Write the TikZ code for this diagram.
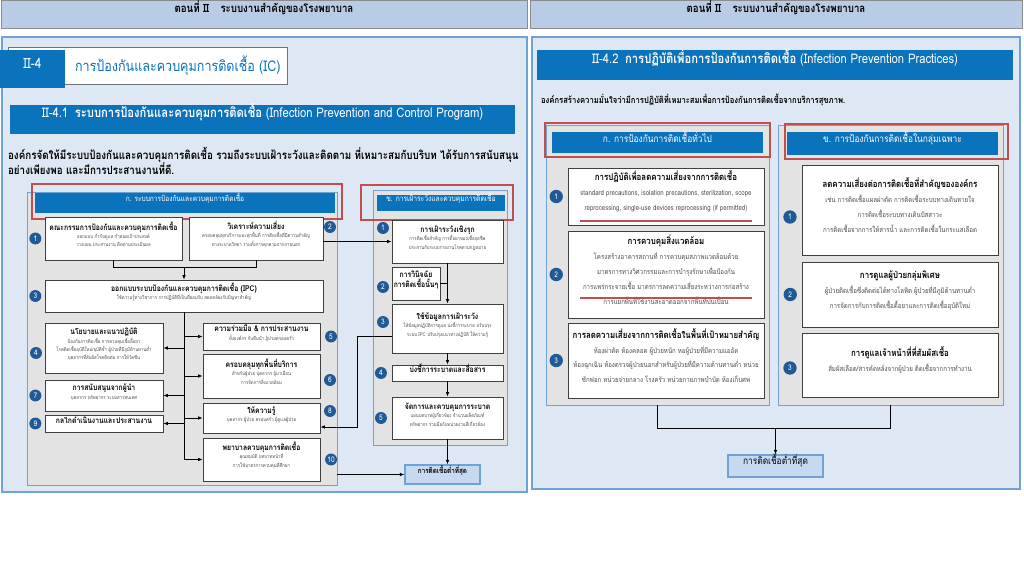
\documentclass[tikz,border=0pt]{standalone}
\usepackage{fontspec}
\setmainfont{Loma}[Script=Thai, FakeStretch=0.85]
\usetikzlibrary{positioning, arrows.meta, fit, shadows}
\definecolor{bandblue}{HTML}{B9CCE5}
\definecolor{paneblue}{HTML}{DEE8F4}
\definecolor{edgeblue}{HTML}{6FA3D6}
\definecolor{barblue}{HTML}{0B73BB}
\definecolor{areagray}{HTML}{E3E3E3}
\definecolor{numblue}{HTML}{1F5A96}
\definecolor{framered}{HTML}{C0504D}
\definecolor{outblue}{HTML}{C6D9F0}
\definecolor{subgray}{HTML}{4D4D4D}
\newcommand\hdrfont{\fontsize{8.1}{9}\selectfont\bfseries}
\newcommand\barfont{\fontsize{9.4}{11}\selectfont}
\newcommand\boxttl{\fontsize{5.7}{6.5}\selectfont\bfseries\color{black}}
\newcommand\boxsml{\fontsize{3.6}{6}\selectfont}
\newcommand\bigttl{\fontsize{6.6}{8}\selectfont\bfseries\color{black}}
\newcommand\bigsml{\fontsize{5.1}{10.5}\selectfont}
\tikzset{
  band/.style={fill=bandblue, draw=black!45, line width=0.6pt, inner sep=0pt, font=\hdrfont},
  pane/.style={fill=paneblue, draw=edgeblue, line width=0.8pt, inner sep=0pt},
  bar/.style={fill=barblue, text=white, inner sep=0pt},
  area/.style={fill=areagray, draw=edgeblue, line width=0.6pt, inner sep=0pt},
  box/.style={draw=black!75, fill=white, line width=0.6pt, inner sep=0pt, align=center,
    text=subgray, font=\boxsml,
    drop shadow={shadow xshift=0.5pt, shadow yshift=-0.5pt, fill=black!35}},
  bigbox/.style={box, font=\bigsml},
  redframe/.style={draw=framered, line width=1.5pt},
  num/.style={circle, fill=numblue, text=white, inner sep=0pt, minimum size=8.5pt,
    font=\fontsize{5.5}{6}\selectfont},
  result/.style={fill=outblue, draw=edgeblue, line width=0.8pt, inner sep=0pt,
    font=\fontsize{5.3}{6}\selectfont\bfseries},
  uline/.style={draw=framered, line width=0.8pt},
  >={Latex[length=3.2pt, width=2.6pt]},
}
\begin{document}
\begin{tikzpicture}[x=0.025cm, y=-0.025cm, node distance=2pt, line width=0.6pt]
  \useasboundingbox (0,0) rectangle (1024,576);
  \fill[white] (0,0) rectangle (1024,576);

  % left page
  \node[band, fit={(1,0)(527,28)}] (hdrL) {ตอนที่ II\quad ระบบงานสำคัญของโรงพยาบาล};
  \node[pane, fit={(2,37)(527,492)}] (paneL) {};
  \node[draw=black!55, fill=white, inner sep=0pt, fit={(8,47)(287,84)}] (titlebox) {};
  \node[bar, fit={(0,50)(65,88)}, font=\fontsize{10}{12}\selectfont] (tab) {II-4};
  \node[anchor=west, text=barblue, font=\fontsize{10.5}{12}\selectfont] (title) at (70,66) {การป้องกันและควบคุมการติดเชื้อ (IC)};
  \node[bar, fit={(10,105)(515,134)}, font=\barfont] (barL) {II-4.1\enspace {\bfseries ระบบการป้องกันและควบคุมการติดเชื้อ} (Infection Prevention and Control Program)};
  \node[anchor=west, align=left, font=\fontsize{8.2}{11}\selectfont\bfseries] (introL) at (3,161)
    {องค์กรจัดให้มีระบบป้องกันและควบคุมการติดเชื้อ รวมถึงระบบเฝ้าระวังและติดตาม ที่เหมาะสมกับบริบท ได้รับการสนับสนุน\\
     อย่างเพียงพอ และมีการประสานงานที่ดี.};

  \node[area, fit={(27,192)(337,485)}] (areaL) {};
  \node[bar, fit={(35,193)(335,213)}, font=\fontsize{5.5}{6}\selectfont] (barA) {ก. ระบบการป้องกันและควบคุมการติดเชื้อ};
  \node[redframe, inner sep=0pt, fit={(32,184)(342,219)}] {};

  \node[box, fit={(45,217)(182,260)}] (comm) {{\boxttl คณะกรรมการป้องกันและควบคุมการติดเชื้อ}\\ ออกแบบ กำกับดูแล กำหนดเป้าประสงค์\\ วางแผน ประสานงาน ติดตามประเมินผล};
  \node[box, fit={(189,217)(323,260)}] (risk) {{\boxttl วิเคราะห์ความเสี่ยง}\\ ครอบคลุมทุกบริการและทุกพื้นที่ การติดเชื้อที่มีความสำคัญ\\ ทางระบาดวิทยา รวมทั้งการคุกคามจากภายนอก};
  \node[box, fit={(45,280)(323,312)}] (design) {{\boxttl ออกแบบระบบป้องกันและควบคุมการติดเชื้อ (IPC)}\\ ใช้ความรู้ทางวิชาการ การปฏิบัติที่เป็นที่ยอมรับ สอดคล้องกับปัญหาสำคัญ};
  \node[box, fit={(45,323)(163,373)}] (policy) {{\boxttl นโยบายและแนวปฏิบัติ}\\ ป้องกันการติดเชื้อ การควบคุมเชื้อดื้อยา\\ โรคติดเชื้ออุบัติใหม่/อุบัติซ้ำ ผู้ป่วยที่มีภูมิต้านทานต่ำ\\ บุคลากรที่สัมผัสโรคติดต่อ การให้วัคซีน};
  \node[box, fit={(203,323)(320,350)}] (collab) {{\boxttl ความร่วมมือ \& การประสานงาน}\\ ทั้งองค์กร กับทีมนำ ผู้ป่วยครอบครัว};
  \node[box, fit={(203,354)(320,398)}] (cover) {{\boxttl ครอบคลุมทุกพื้นที่บริการ}\\ สำหรับผู้ป่วย บุคลากร ผู้มาเยือน\\ การจัดการสิ่งแวดล้อม};
  \node[box, fit={(45,380)(163,411)}] (support) {{\boxttl การสนับสนุนจากผู้นำ}\\ บุคลากร ทรัพยากร ระบบสารสนเทศ};
  \node[box, fit={(203,403)(320,433)}] (educ) {{\boxttl ให้ความรู้}\\ บุคลากร ผู้ป่วย ครอบครัว ผู้ดูแลผู้ป่วย};
  \node[box, fit={(45,415)(163,432)}] (mech) {{\boxttl กลไกดำเนินงานและประสานงาน}};
  \node[box, fit={(203,438)(320,481)}] (icn) {{\boxttl พยาบาลควบคุมการติดเชื้อ}\\ คุณสมบัติ บทบาทหน้าที่\\ การใช้มาตรการควบคุมที่ศึกษา};

  \node[num, left=of comm] (n1) {1};
  \node[num] (n2) at (330,227) {2};
  \node[num, left=of design] (n3) {3};
  \node[num] (n4) at (36,353) {4};
  \node[num, right=3pt of collab] (n5) {5};
  \node[num] (n6) at (330,380) {6};
  \node[num, left=of support] (n7) {7};
  \node[num] (n8) at (330,411) {8};
  \node[num, left=of mech] (n9) {9};
  \node[num, right=3pt of icn] (n10) {10};

  \node[area, fit={(373,190)(507,445)}] (areaS) {};
  \node[bar, fit={(377,195)(505,211)}, font=\fontsize{5.6}{6}\selectfont] (barS) {ข. การเฝ้าระวังและควบคุมการติดเชื้อ};
  \node[redframe, inner sep=0pt, fit={(361,185)(513,220)}] {};

  \node[box, fit={(392,220)(503,263)}] (surv) {{\boxttl การเฝ้าระวังเชิงรุก}\\ การติดเชื้อสำคัญ การดื้อยาของเชื้อจุลชีพ\\ ประสานกับระบบรายงานโรคตามกฎหมาย};
  \node[box, fit={(392,267)(440,300)}] (diag) {{\boxttl การวินิจฉัย}\\ {\boxttl การติดเชื้อนั้นๆ}};
  \node[box, fit={(392,304)(503,353)}] (usedata) {{\boxttl ใช้ข้อมูลการเฝ้าระวัง}\\ ให้ข้อมูลปฏิบัติการดูแล บ่งชี้การระบาด ปรับปรุง\\ ระบบ IPC ปรับปรุงแนวทางปฏิบัติ ให้ความรู้};
  \node[box, fit={(392,365)(503,381)}] (outbreak) {{\boxttl บ่งชี้การระบาดและสื่อสาร}};
  \node[box, fit={(392,397)(503,439)}] (manage) {{\boxttl จัดการและควบคุมการระบาด}\\ แผนบทบาทผู้เกี่ยวข้อง จำนวนผลิตภัณฑ์\\ ทรัพยากร ร่วมมือกับหน่วยงานที่เกี่ยวข้อง};
  \node[result, fit={(405,465)(480,484)}] (lowL) {การติดเชื้อต่ำที่สุด};

  \node[num] (c1) at (383,228) {1};
  \node[num] (c2) at (383,287) {2};
  \node[num] (c3) at (383,322) {3};
  \node[num, left=3pt of outbreak] (c4) {4};
  \node[num, left=3pt of manage] (c5) {5};

  \coordinate (brk) at (0,267);
  \coordinate (j3) at (357,336);
  \coordinate (j8) at (357,427);
  \draw (comm.south) -- (comm.south |- brk) -- (risk.south |- brk) -- (risk.south);
  \draw[->] (design.north |- brk) -- (design.north);
  \draw (design.south) -- (design.south |- icn.west);
  \foreach \b in {policy, support, mech}
    \draw[->] (\b.east -| design.south) -- (\b.east);
  \foreach \b in {collab, cover, educ, icn}
    \draw[->] (\b.west -| design.south) -- (\b.west);
  \draw[->] (risk.east |- surv.west) -- (surv.west);
  \draw[->] (usedata.west |- j3) -- (j3) -- (j8) -- (j8 -| educ.east);
  \draw[->] (surv.south) -- (usedata.north);
  \draw (diag.east) -- (diag.east -| surv.south);
  \draw[->] (usedata.south) -- (outbreak.north);
  \draw[->] (outbreak.south) -- (manage.north);
  \draw[->] (manage.south) -- (manage.south |- lowL.north);
  \draw[->] (lowL.west -| areaL.east) -- (lowL.west);

  % right page
  \node[band, fit={(530,0)(1022,28)}] (hdrR) {ตอนที่ II\quad ระบบงานสำคัญของโรงพยาบาล};
  \node[pane, fit={(532,37)(1020,489)}] (paneR) {};
  \node[bar, fit={(537,50)(1013,80)}, font=\barfont] (barR) {II-4.2\enspace {\bfseries การปฏิบัติเพื่อการป้องกันการติดเชื้อ} (Infection Prevention Practices)};
  \node[anchor=west, font=\fontsize{6.4}{7}\selectfont\bfseries] (introR) at (536,100)
    {องค์กรสร้างความมั่นใจว่ามีการปฏิบัติที่เหมาะสมเพื่อการป้องกันการติดเชื้อจากบริการสุขภาพ.};

  \node[area, fit={(546,125)(769,405)}] (areaG) {};
  \node[bar, fit={(552,132)(763,153)}, font=\fontsize{7}{8}\selectfont] (barG) {ก. การป้องกันการติดเชื้อทั่วไป};
  \node[redframe, inner sep=0pt, fit={(545,123)(770,157)}] {};
  \node[area, fit={(778,125)(1003,405)}] (areaP) {};
  \node[bar, fit={(787,132)(998,155)}, font=\fontsize{7}{8}\selectfont] (barP) {ข. การป้องกันการติดเชื้อในกลุ่มเฉพาะ};
  \node[redframe, inner sep=0pt, fit={(785,124)(1008,159)}] {};

  \node[bigbox, fit={(568,168)(764,225)}] (stdprec) {{\bigttl การปฏิบัติเพื่อลดความเสี่ยงจากการติดเชื้อ}\\ standard precautions, isolation precautions, sterilization, scope\\ reprocessing, single-use devices reprocessing (if permitted)};
  \node[bigbox, fit={(568,231)(764,318)}] (envctl) {{\bigttl การควบคุมสิ่งแวดล้อม}\\ โครงสร้างอาคารสถานที่ การควบคุมสภาพแวดล้อมด้วย\\ มาตรการทางวิศวกรรมและการบำรุงรักษาเพื่อป้องกัน\\ การแพร่กระจายเชื้อ มาตรการลดความเสี่ยงระหว่างการก่อสร้าง\\ การแยกพื้นที่ใช้งานสะอาดออกจากพื้นที่ปนเปื้อน};
  \node[bigbox, fit={(568,323)(764,398)}] (target) {{\bigttl การลดความเสี่ยงจากการติดเชื้อในพื้นที่เป้าหมายสำคัญ}\\ ห้องผ่าตัด ห้องคลอด ผู้ป่วยหนัก หอผู้ป่วยที่มีความแออัด\\ ห้องฉุกเฉิน ห้องตรวจผู้ป่วยนอกสำหรับผู้ป่วยที่มีความต้านทานต่ำ หน่วย\\ ซักฟอก หน่วยจ่ายกลาง โรงครัว หน่วยกายภาพบำบัด ห้องเก็บศพ};
  \node[bigbox, fit={(802,165)(998,255)}] (orgrisk) {{\bigttl ลดความเสี่ยงต่อการติดเชื้อที่สำคัญขององค์กร}\\ เช่น การติดเชื้อแผลผ่าตัด การติดเชื้อระบบทางเดินหายใจ\\ การติดเชื้อระบบทางเดินปัสสาวะ\\ การติดเชื้อจากการให้สารน้ำ และการติดเชื้อในกระแสเลือด};
  \node[bigbox, fit={(802,262)(998,327)}] (special) {{\bigttl การดูแลผู้ป่วยกลุ่มพิเศษ}\\ ผู้ป่วยติดเชื้อซึ่งติดต่อได้ทางโลหิต ผู้ป่วยที่มีภูมิต้านทานต่ำ\\ การจัดการกับการติดเชื้อดื้อยาและการติดเชื้ออุบัติใหม่};
  \node[bigbox, fit={(802,333)(998,397)}] (staff) {{\bigttl การดูแลเจ้าหน้าที่ที่สัมผัสเชื้อ}\\ สัมผัสเลือด/สารคัดหลั่งจากผู้ป่วย ติดเชื้อจากการทำงาน};
  \node[result, fit={(728,455)(823,477)}, font=\fontsize{7}{8}\selectfont] (lowR) {การติดเชื้อต่ำที่สุด};

  \draw[uline] (580,221) -- (752,221);
  \draw[uline] (580,298) -- (752,298);

  \node[num, minimum size=9.5pt, left=3pt of stdprec] (g1) {1};
  \node[num, minimum size=9.5pt, left=3pt of envctl] (g2) {2};
  \node[num, minimum size=9.5pt, left=3pt of target] (g3) {3};
  \node[num, minimum size=9.5pt] (h1) at (790,217) {1};
  \node[num, minimum size=9.5pt, left=3pt of special] (h2) {2};
  \node[num, minimum size=9.5pt] (h3) at (790,368) {3};

  \coordinate (jr) at (0,428);
  \draw (areaG.south) -- (areaG.south |- jr) -- (areaP.south |- jr) -- (areaP.south);
  \draw[->] (lowR.north |- jr) -- (lowR.north);
\end{tikzpicture}
\end{document}
